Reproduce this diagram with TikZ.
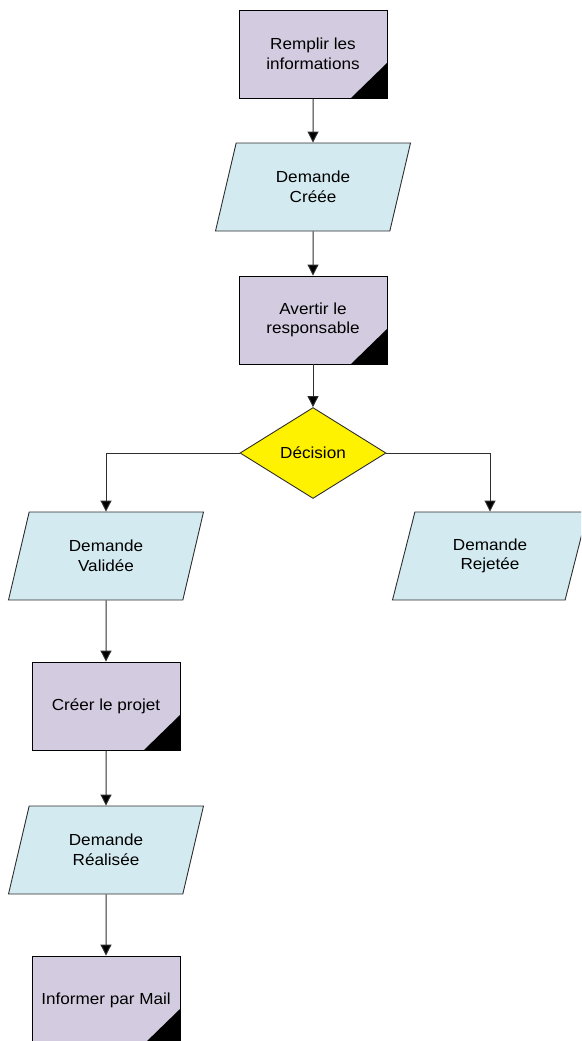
\documentclass[tikz,border=0pt]{standalone}
\usepackage{fontspec}
\setmainfont{Liberation Sans}[FakeStretch=1.07]
\usetikzlibrary{shapes.geometric, arrows.meta}

\definecolor{lavande}{HTML}{D3CBDF}
\definecolor{bleuclair}{HTML}{D2EAF0}
\definecolor{trait}{HTML}{2E2E2E}

\tikzset{
  tache/.style={draw=black, line width=0.9pt, fill=lavande, minimum width=148pt, minimum height=88pt, align=center,
    path picture={\fill[black] (path picture bounding box.south east) -- ++(-36pt,0pt) -- ++(36pt,35pt) -- cycle;}},
  donnee/.style={trapezium, trapezium left angle=61.4, trapezium right angle=118.6, trapezium stretches body,
    draw=trait, line width=0.9pt, fill=bleuclair, minimum width=195pt, minimum height=88pt, align=center},
  choix/.style={diamond, draw=trait, line width=0.9pt, fill=yellow, minimum width=146pt, minimum height=88pt},
  fleche/.style={draw=trait, line width=1pt, -{Triangle[width=11pt,length=11pt,fill=black]}}
}

\begin{document}
\begin{tikzpicture}[x=1pt, y=-1pt, every node/.append style={font=\fontsize{16}{19.5}\selectfont}]

        \clip (0,0) rectangle (581,1041);

        % colonne principale
        \node[tache] (remplir) at (313, 54) {Remplir les\\informations};
        \node[donnee] (creee) at (313, 187) {Demande\\Créée};
        \node[tache] (avertir) at (313, 320) {Avertir le\\responsable};
        \node[choix] (decision) at (313, 453) {Décision};

        % branches
        \node[donnee] (validee) at (106, 556) {Demande\\Validée};
        \node[donnee] (rejetee) at (490, 556) {Demande\\Rejetée};
        \node[tache] (projet) at (106, 706) {Créer le projet};
        \node[donnee] (realisee) at (106, 850) {Demande\\Réalisée};
        \node[tache] (mail) at (106, 1000) {Informer par Mail};

        % fleches
        \draw[fleche] (remplir.south) -- (creee.north);
        \draw[fleche] (creee.south) -- (avertir.north);
        \draw[fleche] (avertir.south) -- (decision.north);
        \draw[fleche] (decision.west) -| (validee.north);
        \draw[fleche] (decision.east) -| (rejetee.north);
        \draw[fleche] (validee.south) -- (projet.north);
        \draw[fleche] (projet.south) -- (realisee.north);
        \draw[fleche] (realisee.south) -- (mail.north);

\end{tikzpicture}
\end{document}
